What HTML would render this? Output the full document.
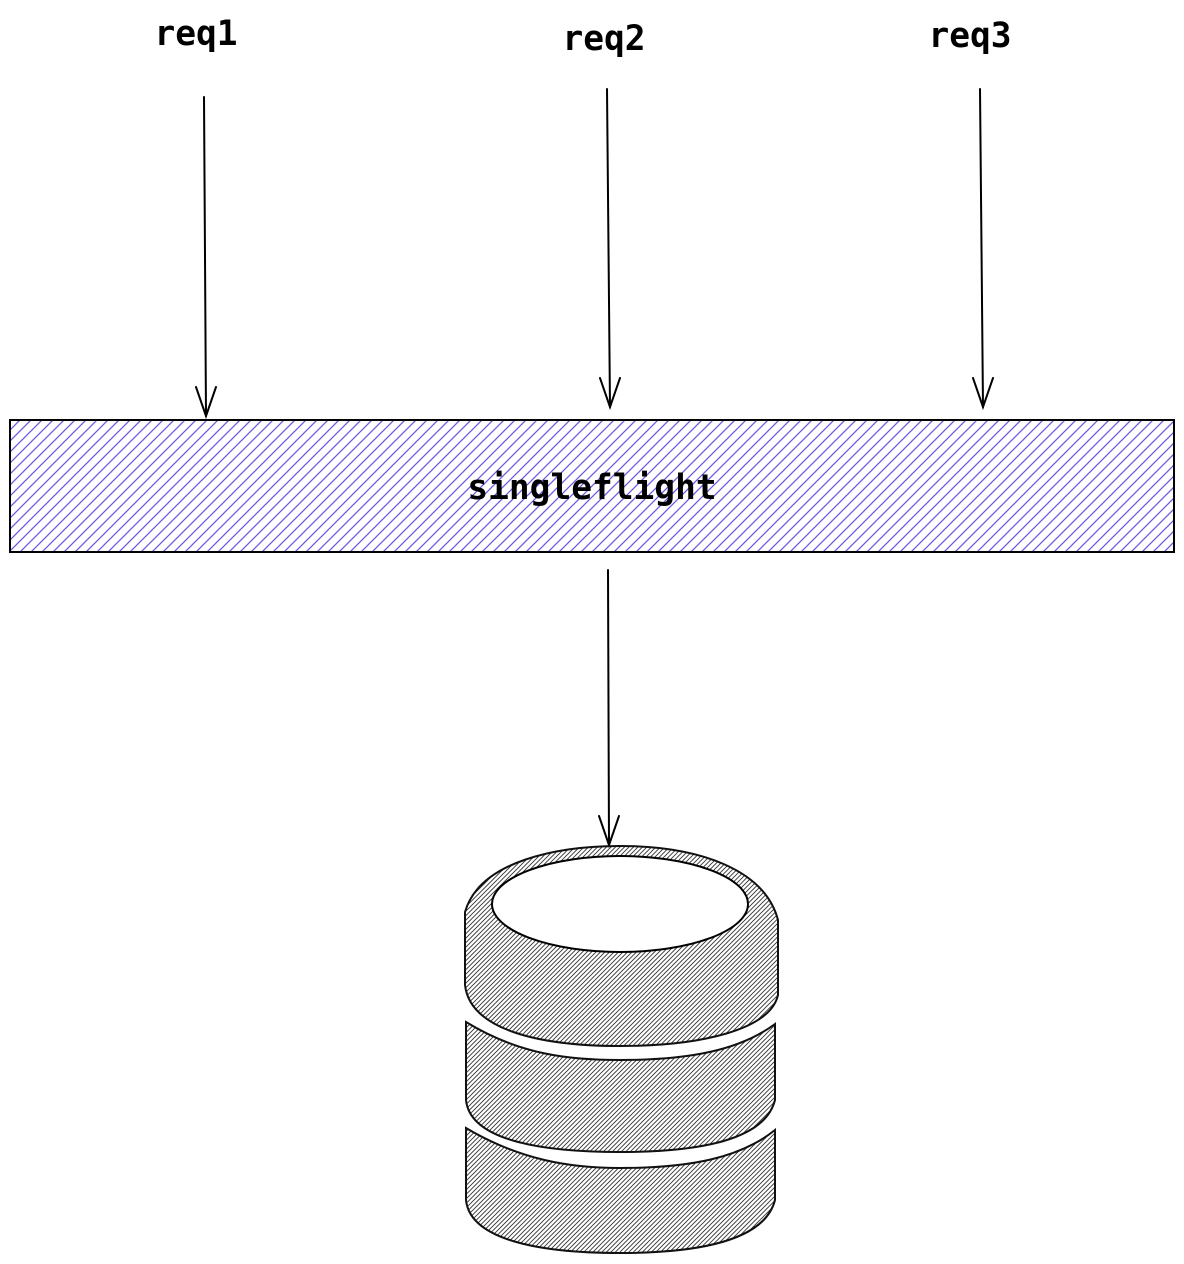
<!DOCTYPE html>
<html><head><meta charset="utf-8"><style>
html,body{margin:0;padding:0;background:#fff;}
svg{display:block;}
text{font-family:"DejaVu Sans Mono","Liberation Mono",monospace;font-weight:bold;font-size:34.5px;fill:#000;}
</style></head><body>
<svg width="1184" height="1264" viewBox="0 0 1184 1264" xmlns="http://www.w3.org/2000/svg">
<defs>
<pattern id="ph" patternUnits="userSpaceOnUse" width="11" height="11">
<path d="M-2,13 L13,-2 M-2,2 L2,-2 M9,13 L13,9" stroke="#7058e0" stroke-width="1.3"/>
</pattern>
<pattern id="gh" patternUnits="userSpaceOnUse" width="4.5" height="4.5">
<path d="M-1,5.5 L5.5,-1 M-1,1 L1,-1 M3.5,5.5 L5.5,3.5" stroke="#333" stroke-width="0.9"/>
</pattern>
</defs>
<text x="196" y="45" text-anchor="middle">req1</text>
<text x="604" y="50" text-anchor="middle">req2</text>
<text x="970" y="47" text-anchor="middle">req3</text>
<g stroke="#000" stroke-width="2" fill="none" stroke-linecap="round">
<line x1="204" y1="97" x2="206" y2="416"/><polyline points="196,387 206,416 216,387"/>
<line x1="607" y1="89" x2="610" y2="407"/><polyline points="600,378 610,407 620,378"/>
<line x1="980" y1="89" x2="983" y2="407"/><polyline points="973,378 983,407 993,378"/>
<line x1="608" y1="570" x2="609" y2="845"/><polyline points="599,816 609,845 619,816"/>
</g>
<rect x="10" y="420" width="1164" height="132" fill="url(#ph)" stroke="#000" stroke-width="2"/>
<text x="592" y="499" text-anchor="middle">singleflight</text>
<g stroke="#111" stroke-width="2" fill="url(#gh)">
<path d="M465,912 C480,860 560,846 620,846 C700,846 765,870 778,920 L778,995 C770,1030 700,1046 620,1046 C540,1046 470,1030 465,985 Z"/>
<path d="M466,1022 C520,1055 570,1060 620,1060 C690,1060 740,1050 775,1024 L775,1100 C765,1140 700,1152 620,1152 C540,1152 470,1140 466,1100 Z"/>
<path d="M466,1128 C520,1160 570,1168 620,1168 C690,1168 740,1158 775,1130 L775,1200 C765,1240 700,1253 620,1253 C540,1253 470,1240 466,1200 Z"/>
</g>
<ellipse cx="620" cy="904" rx="128" ry="48" fill="#fff" stroke="#000" stroke-width="2"/>
</svg>
</body></html>
